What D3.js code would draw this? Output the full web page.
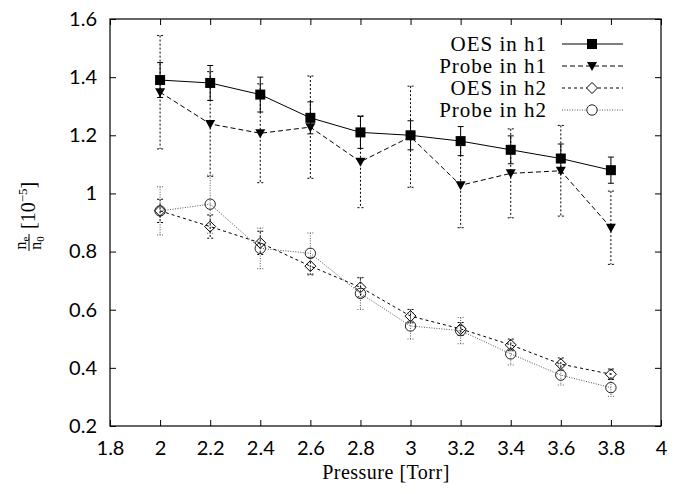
<!DOCTYPE html>
<html>
<head>
<meta charset="utf-8">
<script src="https://cdn.jsdelivr.net/npm/d3@7/dist/d3.min.js"></script>
<style>
  html, body { margin: 0; padding: 0; background: #fff; }
  svg { display: block; }
</style>
</head>
<body>
<svg id="chart" width="683" height="494"></svg>
<script>
// ---- data ----
const pressure = [2.0, 2.2, 2.4, 2.6, 2.8, 3.0, 3.2, 3.4, 3.6, 3.8];
const oesH1 = [1.39, 1.38, 1.34, 1.26, 1.21, 1.20, 1.18, 1.15, 1.12, 1.08];
const oesH1Err = [0.06, 0.06, 0.06, 0.055, 0.055, 0.05, 0.05, 0.048, 0.05, 0.045];
const probeH1 = [1.348, 1.239, 1.207, 1.228, 1.109, 1.195, 1.028, 1.069, 1.078, 0.882];
const probeH1Err = [0.195, 0.18, 0.17, 0.176, 0.158, 0.174, 0.146, 0.153, 0.156, 0.126];
const oesH2 = [0.94, 0.886, 0.83, 0.75, 0.677, 0.578, 0.534, 0.479, 0.413, 0.378];
const oesH2Err = [0.04, 0.04, 0.04, 0.03, 0.033, 0.023, 0.022, 0.02, 0.021, 0.018];
const probeH2 = [0.94, 0.963, 0.811, 0.794, 0.656, 0.544, 0.528, 0.448, 0.375, 0.332];
const probeH2Err = [0.083, 0.1, 0.07, 0.07, 0.055, 0.045, 0.045, 0.038, 0.034, 0.03];
const seriesNames = ["OES in h1", "Probe in h1", "OES in h2", "Probe in h2"];
const xTicks = [1.8, 2.0, 2.2, 2.4, 2.6, 2.8, 3.0, 3.2, 3.4, 3.6, 3.8, 4.0];
const yTicks = [0.2, 0.4, 0.6, 0.8, 1.0, 1.2, 1.4, 1.6];

// ---- layout ----
const L = 110, R = 661, T = 19, B = 426;
const svg = d3.select("#chart");
const x = d3.scaleLinear().domain([1.8, 4]).range([L, R]);
const y = d3.scaleLinear().domain([0.2, 1.6]).range([B, T]);

const tickFont = "Lato, 'Open Sans', sans-serif";
const serif = "'Liberation Serif', 'DejaVu Serif', serif";
const fmt = d => (Math.abs(d - Math.round(d)) < 1e-9 ? String(Math.round(d)) : d3.format(".1f")(d));

// axes
const gB = svg.append("g").attr("transform", `translate(0,${B})`)
  .call(d3.axisBottom(x).tickValues(xTicks).tickSize(-6).tickPadding(14).tickFormat(fmt));
const gT = svg.append("g").attr("transform", `translate(0,${T})`)
  .call(d3.axisTop(x).tickValues(xTicks).tickSize(-6).tickFormat(""));
const gL = svg.append("g").attr("transform", `translate(${L},0)`)
  .call(d3.axisLeft(y).tickValues(yTicks).tickSize(-6).tickPadding(13).tickFormat(fmt));
const gR = svg.append("g").attr("transform", `translate(${R},0)`)
  .call(d3.axisRight(y).tickValues(yTicks).tickSize(-6).tickFormat(""));
[gB, gT, gL, gR].forEach(g => {
  g.select(".domain").remove();
  g.selectAll(".tick line").attr("stroke", "#000").attr("stroke-width", 1);
  g.selectAll("text").attr("font-family", tickFont).attr("font-size", 20).attr("fill", "#000");
});
gB.selectAll(".tick text").attr("dy", "0.75em");

svg.append("rect").attr("x", L).attr("y", T).attr("width", R - L).attr("height", B - T)
  .attr("fill", "none").attr("stroke", "#000").attr("stroke-width", 1.2);

// axis titles
svg.append("text").attr("x", 386).attr("y", 479).attr("text-anchor", "middle")
  .attr("font-family", serif).attr("font-size", 20).attr("letter-spacing", 0.5).text("Pressure [Torr]");

const yl = svg.append("g").attr("transform", "translate(29,243) rotate(-90)")
  .attr("font-family", serif).attr("fill", "#000");
const num = yl.append("text").attr("x", 0).attr("y", -3).attr("text-anchor", "middle").attr("font-size", 16);
num.append("tspan").text("n");
num.append("tspan").attr("font-size", 11).attr("dy", 3).text("e");
yl.append("line").attr("x1", -8).attr("x2", 9).attr("y1", 0).attr("y2", 0).attr("stroke", "#000").attr("stroke-width", 1);
const den = yl.append("text").attr("x", 0).attr("y", 12).attr("text-anchor", "middle").attr("font-size", 16);
den.append("tspan").text("n");
den.append("tspan").attr("font-size", 11).attr("dy", 3).text("0");
const unit = yl.append("text").attr("x", 14).attr("y", 6).attr("font-size", 20);
unit.append("tspan").text("[10");
unit.append("tspan").attr("font-size", 13).attr("dy", -8).text("−5");
unit.append("tspan").attr("dy", 8).text("]");

// ---- series ----
const markers = {
  square: g => g.append("rect").attr("x", -5).attr("y", -5).attr("width", 10).attr("height", 10).attr("fill", "#000"),
  triangle: g => g.append("path").attr("d", "M-5,-4L5,-4L0,5Z").attr("fill", "#000"),
  diamond: g => g.append("path").attr("d", "M0,-5.5L5.5,0L0,5.5L-5.5,0Z").attr("fill", "none").attr("stroke", "#000").attr("stroke-width", 1),
  circle: g => g.append("circle").attr("r", 5.2).attr("fill", "none").attr("stroke", "#222").attr("stroke-width", 1)
};

const series = [
  { name: seriesNames[0], vals: oesH1, err: oesH1Err, dash: null, ebDash: null, color: "#000", marker: "square" },
  { name: seriesNames[1], vals: probeH1, err: probeH1Err, dash: "5,3", ebDash: "2,2", color: "#000", marker: "triangle" },
  { name: seriesNames[2], vals: oesH2, err: oesH2Err, dash: "3,3", ebDash: "2,2", color: "#000", marker: "diamond" },
  { name: seriesNames[3], vals: probeH2, err: probeH2Err, dash: "1,1.5", ebDash: "1,1.5", color: "#555", marker: "circle" }
];

const line = d3.line().x(d => x(d[0])).y(d => y(d[1]));

series.forEach(s => {
  const g = svg.append("g");
  const pts = pressure.map((p, i) => [p, s.vals[i], s.err[i]]);
  const eb = g.append("g").attr("stroke", s.color).attr("stroke-width", 1)
    .attr("stroke-dasharray", s.ebDash);
  pts.forEach(d => {
    const cx = x(d[0]), y1 = y(d[1] + d[2]), y2 = y(d[1] - d[2]);
    eb.append("line").attr("x1", cx).attr("x2", cx).attr("y1", y1).attr("y2", y2);
    eb.append("line").attr("x1", cx - 3).attr("x2", cx + 3).attr("y1", y1).attr("y2", y1);
    eb.append("line").attr("x1", cx - 3).attr("x2", cx + 3).attr("y1", y2).attr("y2", y2);
  });
  g.append("path").attr("d", line(pts)).attr("fill", "none").attr("stroke", s.color)
    .attr("stroke-width", 1).attr("stroke-dasharray", s.dash);
  pts.forEach(d => {
    const m = g.append("g").attr("transform", `translate(${x(d[0])},${y(d[1])})`);
    markers[s.marker](m);
  });
});

// ---- legend ----
const leg = svg.append("g");
series.forEach((s, i) => {
  const cy = 44 + i * 22;
  leg.append("text").attr("x", 547).attr("y", cy + 7).attr("text-anchor", "end")
    .attr("font-family", serif).attr("font-size", 21).attr("letter-spacing", 1).text(s.name);
  leg.append("line").attr("x1", 562).attr("x2", 623).attr("y1", cy).attr("y2", cy)
    .attr("stroke", s.color).attr("stroke-width", 1).attr("stroke-dasharray", s.dash);
  const m = leg.append("g").attr("transform", `translate(592,${cy})`);
  markers[s.marker](m);
  if (s.marker === "diamond" || s.marker === "circle") m.select("*").attr("fill", "#fff");
});
</script>
</body>
</html>
